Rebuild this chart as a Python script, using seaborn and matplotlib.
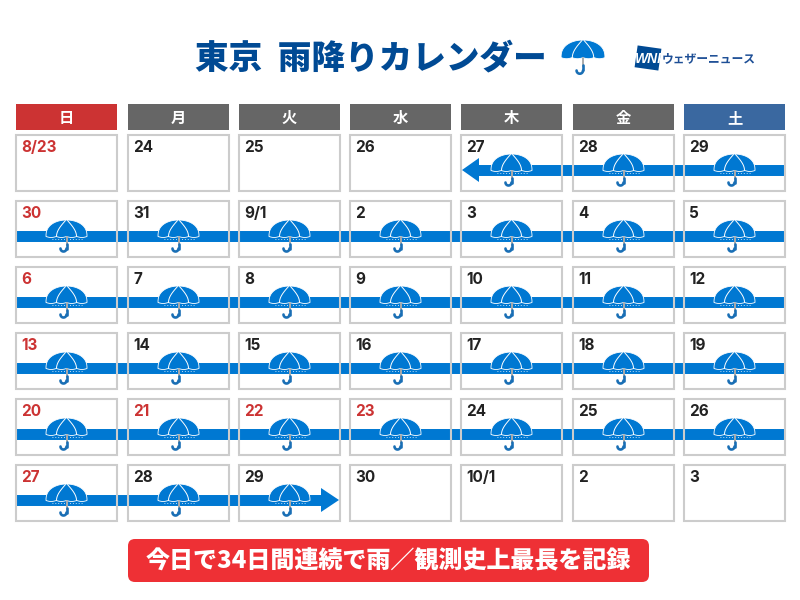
import numpy as np
import pandas as pd
import matplotlib
matplotlib.use("Agg")
import matplotlib.pyplot as plt
from matplotlib.patches import Rectangle, Polygon, FancyBboxPatch
from matplotlib.transforms import Affine2D
import seaborn as sns

sns.set_theme(style="white")
plt.rcParams["font.family"] = ["Noto Sans CJK JP", "DejaVu Sans"]

# Calendar content
weekdays = ["日", "月", "火", "水", "木", "金", "土"]
dates = [
    ["8/23", "24", "25", "26", "27", "28", "29"],
    ["30", "31", "9/1", "2", "3", "4", "5"],
    ["6", "7", "8", "9", "10", "11", "12"],
    ["13", "14", "15", "16", "17", "18", "19"],
    ["20", "21", "22", "23", "24", "25", "26"],
    ["27", "28", "29", "30", "10/1", "2", "3"],
]
holidays = ["8/23", "30", "6", "13", "20", "21", "22", "23"]
red_last_row = ["27"]
rain = [
    [0, 0, 0, 0, 1, 1, 1],
    [1, 1, 1, 1, 1, 1, 1],
    [1, 1, 1, 1, 1, 1, 1],
    [1, 1, 1, 1, 1, 1, 1],
    [1, 1, 1, 1, 1, 1, 1],
    [1, 1, 1, 0, 0, 0, 0],
]
title = "東京  雨降りカレンダー"
banner = "今日で34日間連続で雨／観測史上最長を記録"

# Layout in pixels
col_left = [16, 128, 239, 350, 461, 573, 684]
row_top = [135, 201, 267, 333, 399, 465]
cell_w = 101
cell_h = 56

RAIN_BLUE = "#0078d2"
NAVY = "#004a94"
GREY_BOX = "#cccccc"
DATE_RED = "#cc3333"
header_colors = ["#cc3333", "#666666", "#666666", "#666666", "#666666", "#666666", "#3a68a0"]


def draw_umbrella(ax, cx, top, scale=1.0, z=5, specks=True):
    # dome with scalloped rim, white ribs, grey shaft and blue hook
    w = 20.5 * scale
    h = 16.5 * scale
    t = np.linspace(np.pi, 0, 50)
    xs = cx + w * np.cos(t)
    ys = top + h - h * np.sin(t) ** 0.8
    rim_x = np.linspace(cx + w, cx - w, 41)
    rim_y = top + h + 1.0 * scale * np.abs(np.sin(np.linspace(0, 4 * np.pi, 41)))
    ax.add_patch(Polygon(np.column_stack([np.r_[xs, rim_x], np.r_[ys, rim_y]]), closed=True,
                         fc=RAIN_BLUE, ec="white", lw=0.6, zorder=z))
    for k in [-1, 1]:
        s = np.linspace(0, 1, 20)
        ax.plot(cx + k * (1 + 9 * np.sin(s * np.pi / 2)) * scale, top + 0.5 + (h - 0.5) * s,
                color="white", lw=0.7, zorder=z + 1)
    if specks:
        ax.plot([cx - 15, cx + 15], [top + h + 2.6, top + h + 2.6], color="white", lw=0.6,
                ls=(0, (1, 2.5)), zorder=z)
    ax.plot([cx, cx], [top + h, top + h + 8 * scale], color="#aaaaaa", lw=1.4, zorder=z)
    a = np.linspace(0, np.pi, 20)
    hook_y = top + h + 12 * scale
    ax.plot([cx, cx], [top + h + 7 * scale, hook_y], color="#1a6fb5", lw=1.9, zorder=z + 1)
    ax.plot(cx - 3 * scale + 3 * scale * np.cos(a), hook_y + 3 * scale * np.sin(a),
            color="#1a6fb5", lw=1.9, solid_capstyle="round", zorder=z + 1)


fig = plt.figure(figsize=(8, 6), dpi=100)
ax = fig.add_axes([0, 0, 1, 1])

# rain bands, one line per calendar row
bands = []
for r, flags in enumerate(rain):
    cols = [c for c, f in enumerate(flags) if f]
    bands.append({"row": r, "x": col_left[cols[0]], "end": "start"})
    bands.append({"row": r, "x": col_left[cols[-1]] + cell_w, "end": "stop"})
df = pd.DataFrame(bands)
df["y"] = df["row"].map(lambda r: row_top[r] + 35)
first = df["row"] == 0
last = df["row"] == 5
df.loc[first & (df["end"] == "start"), "x"] = 478
df.loc[last & (df["end"] == "stop"), "x"] = 322
sns.lineplot(data=df, x="x", y="y", units="row", estimator=None, sort=False, color=RAIN_BLUE,
             lw=7.9, solid_capstyle="butt", zorder=2, ax=ax, legend=False)

# arrow heads
ax.add_patch(Polygon([[462, 170], [479, 158], [479, 182]], fc=RAIN_BLUE, ec="none", zorder=2))
ax.add_patch(Polygon([[339, 500], [321, 488], [321, 512]], fc=RAIN_BLUE, ec="none", zorder=4))

# header row
for c, name in enumerate(weekdays):
    ax.add_patch(Rectangle((col_left[c], 104), cell_w, 26, fc=header_colors[c], ec="none"))
    ax.text(col_left[c] + cell_w / 2, 118, name, color="white", fontsize=11, fontweight="bold",
            ha="center", va="center")

# day cells
for r, week in enumerate(dates):
    for c, label in enumerate(week):
        ax.add_patch(Rectangle((col_left[c], row_top[r]), cell_w, cell_h, fc="none",
                               ec=GREY_BOX, lw=1.5, zorder=3))
        is_red = (r < 5 and label in holidays) or (r == 5 and label in red_last_row)
        ax.text(col_left[c] + 5, row_top[r] + 12, label, color=DATE_RED if is_red else "#222222",
                family="Inter", fontsize=11, fontweight="bold", va="center", zorder=6)
        if rain[r][c]:
            draw_umbrella(ax, col_left[c] + cell_w / 2, row_top[r] + 19)

# title and its umbrella
ax.text(195, 58, title, color=NAVY, fontsize=24.2, fontweight="black", ha="left", va="center")
draw_umbrella(ax, 583, 40, scale=1.07, specks=False)

# logo
rot = Affine2D().rotate_deg_around(648, 58, 8) + ax.transData
ax.add_patch(Rectangle((636, 47), 24, 22, fc=NAVY, ec="none", transform=rot))
ax.text(648, 59, "WNI", color="white", family="Liberation Sans", fontsize=10, fontweight="bold",
        style="italic", ha="center", va="center")
ax.text(662, 59, "ウェザーニュース", color="#1e4f96", fontsize=8.5, fontweight="bold",
        ha="left", va="center")

# bottom banner
ax.add_patch(FancyBboxPatch((128, 539), 521, 43, boxstyle="round,pad=0,rounding_size=7", fc="#ee3035",
                            ec="none"))
ax.text(388.5, 561, banner, color="white", fontsize=17.3, fontweight="black", ha="center", va="center")

ax.set_xlim(0, 800)
ax.set_ylim(600, 0)
ax.axis("off")
fig.savefig("out.png", dpi=100, facecolor="white")
